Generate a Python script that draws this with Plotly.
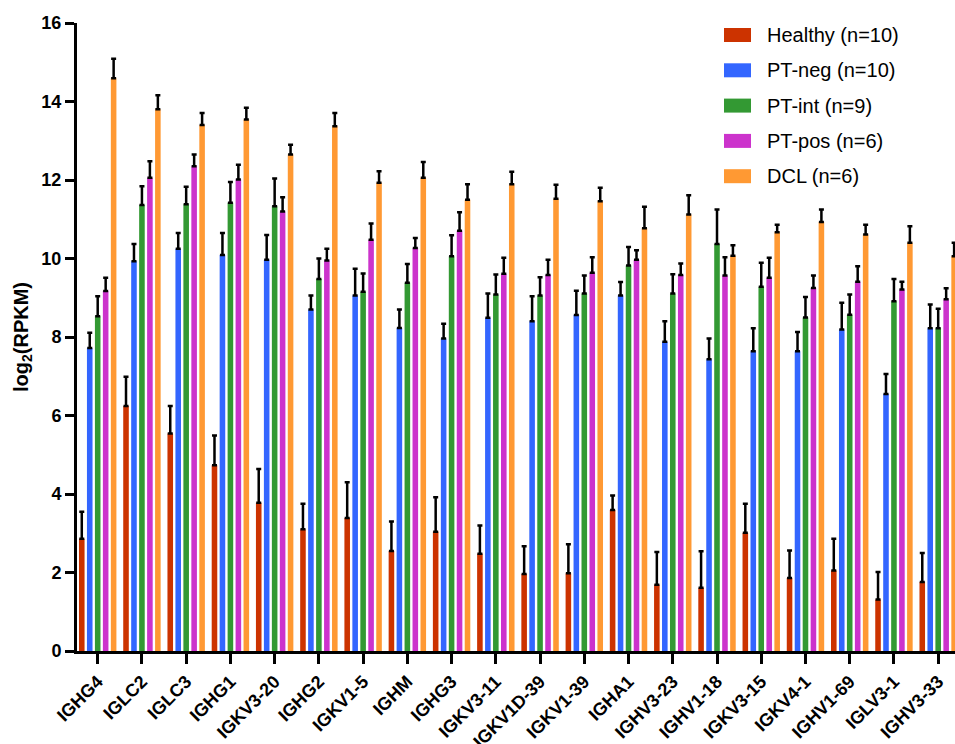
import plotly.graph_objects as go

genes = ["IGHG4", "IGLC2", "IGLC3", "IGHG1", "IGKV3-20", "IGHG2", "IGKV1-5", "IGHM",
         "IGHG3", "IGKV3-11", "IGKV1D-39", "IGKV1-39", "IGHA1", "IGHV3-23", "IGHV1-18",
         "IGKV3-15", "IGKV4-1", "IGHV1-69", "IGLV3-1", "IGHV3-33"]

series_names = ["Healthy (n=10)", "PT-neg (n=10)", "PT-int (n=9)", "PT-pos (n=6)", "DCL (n=6)"]

healthy = [2.86, 6.24, 5.54, 4.73, 3.78, 3.10, 3.39, 2.55, 3.04, 2.48,
           1.96, 1.98, 3.59, 1.69, 1.61, 3.01, 1.86, 2.05, 1.31, 1.76]
healthy_top = [3.55, 6.99, 6.24, 5.49, 4.64, 3.75, 4.30, 3.30, 3.92, 3.20,
               2.67, 2.72, 3.96, 2.52, 2.54, 3.75, 2.56, 2.86, 2.01, 2.50]

pt_neg = [7.72, 9.93, 10.25, 10.09, 9.97, 8.70, 9.06, 8.23, 7.96, 8.49,
          8.40, 8.56, 9.06, 7.88, 7.43, 7.64, 7.64, 8.19, 6.55, 8.22]
pt_neg_top = [8.11, 10.37, 10.65, 10.65, 10.60, 9.06, 9.74, 8.70, 8.34, 9.11,
              9.04, 9.18, 9.40, 8.40, 7.96, 8.22, 8.13, 8.87, 7.06, 8.83]

pt_int = [8.53, 11.36, 11.38, 11.42, 11.33, 9.48, 9.15, 9.38, 10.06, 9.08,
          9.06, 9.11, 9.82, 9.11, 10.37, 9.28, 8.50, 8.57, 8.91, 8.22]
pt_int_top = [9.04, 11.84, 11.83, 11.95, 12.04, 10.00, 9.62, 9.86, 10.59, 9.59,
              9.52, 9.57, 10.29, 9.60, 11.25, 9.89, 9.02, 9.08, 9.48, 8.72]

pt_pos = [9.17, 12.06, 12.35, 12.01, 11.20, 9.95, 10.48, 10.27, 10.71, 9.61,
          9.58, 9.64, 9.97, 9.58, 9.57, 9.51, 9.25, 9.41, 9.21, 8.96]
pt_pos_top = [9.51, 12.48, 12.65, 12.39, 11.56, 10.25, 10.89, 10.52, 11.18, 10.02,
              9.97, 10.03, 10.21, 9.87, 10.03, 10.02, 9.57, 9.80, 9.41, 9.24]

dcl = [14.59, 13.80, 13.40, 13.54, 12.65, 13.37, 11.93, 12.06, 11.50, 11.89,
       11.52, 11.46, 10.77, 11.12, 10.07, 10.67, 10.93, 10.61, 10.40, 10.06]
dcl_top = [15.09, 14.16, 13.71, 13.84, 12.90, 13.71, 12.22, 12.46, 11.89, 12.21,
           11.88, 11.80, 11.32, 11.61, 10.34, 10.86, 11.25, 10.86, 10.82, 10.40]

y_ticks = [0, 2, 4, 6, 8, 10, 12, 14, 16]

colors = ["#CC3300", "#3366FF", "#339933", "#CC33CC", "#FF9933"]

means = [healthy, pt_neg, pt_int, pt_pos, dcl]
tops = [healthy_top, pt_neg_top, pt_int_top, pt_pos_top, dcl_top]

FONT = "Liberation Sans, Arial, Helvetica, sans-serif"

fig = go.Figure()
for name, m, t, c in zip(series_names, means, tops, colors):
    err = [round(tt - mm, 3) for tt, mm in zip(t, m)]
    fig.add_trace(go.Bar(
        x=genes, y=m, name=name, marker=dict(color=c, line=dict(width=0)),
        error_y=dict(type="data", array=err, arrayminus=[0] * len(err),
                     symmetric=False, color="black", thickness=2.5, width=2.5),
        showlegend=False,
    ))

# custom legend (paper coordinates)
L, R, T, B = 77, 955, 23, 651
W, H = R - L, B - T
def px(x):
    return (x - L) / W
def py(y):
    return (B - y) / H

shapes = []
annotations = []
for i, (name, c) in enumerate(zip(series_names, colors)):
    yc = 35 + i * 35.3
    shapes.append(dict(type="rect", xref="paper", yref="paper",
                       x0=px(724), x1=px(751), y0=py(yc + 7), y1=py(yc - 7),
                       fillcolor=c, line=dict(width=0)))
    annotations.append(dict(xref="paper", yref="paper", x=px(765), y=py(yc),
                            text=name, showarrow=False, xanchor="left", yanchor="middle",
                            font=dict(family=FONT, size=20, color="black")))

fig.update_layout(
    width=955, height=744,
    margin=dict(l=L, r=0, t=T, b=744 - B),
    paper_bgcolor="white", plot_bgcolor="white",
    barmode="group", bargap=0.1, bargroupgap=0.3,
    shapes=shapes, annotations=annotations,
    font=dict(family=FONT, color="black"),
)
fig.update_xaxes(
    type="category", range=[-0.468, 19.38],
    showline=True, linecolor="black", linewidth=3,
    ticks="outside", ticklen=10, tickwidth=3, tickcolor="black",
    tickangle=-45, tickfont=dict(family=FONT, size=18, weight="bold", color="black"),
    showgrid=False, zeroline=False, automargin=False,
)
fig.update_yaxes(
    range=[0, 16], tickvals=y_ticks, ticktext=[str(v) for v in y_ticks],
    showline=True, linecolor="black", linewidth=3,
    ticks="outside", ticklen=9, tickwidth=3, tickcolor="black",
    tickfont=dict(family=FONT, size=18, weight="bold", color="black"),
    showgrid=False, zeroline=False, automargin=False,
    title=dict(text="log<sub>2</sub>(RPKM)", standoff=8,
               font=dict(family=FONT, size=20, weight="bold", color="black")),
)

fig.write_html("out.html", config={"displayModeBar": False},
               post_script="document.body.style.margin='0';document.body.style.overflow='hidden';")
